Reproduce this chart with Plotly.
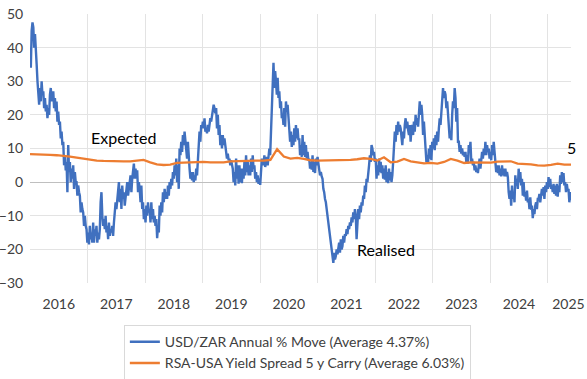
import numpy as np
import plotly.graph_objects as go

# USD/ZAR annual % move (forward one-year realised) in four chunks
usdzar_move_a = [40, 34, 45, 47.5, 46, 40, 44, 37, 35, 30, 27, 23, 28, 24, 30, 26,
    27, 22, 25, 21, 23, 19, 22, 20, 26, 28, 24, 26, 27, 22, 25, 21,
    24, 18, 21, 17, 18, 13, 15, 11, 12, 5, 8, 3.5, 6, -3, 11, 3,
    6, 0, 4, 1, 5, -2, 3, 0, 0, -4, -1, -3, -4, -9, -6, -8,
    -9, -13, -10, -13, -14, -18, -15, -18.5, -13, -17, -15, -18, -12, -18, -14, -16,
    -13, -18, -15, -17, -14, -6, -3, -10, -13, -11, -14, -10, -15, -13, -17, -12,
    -16, -14, -15, -13, -16, -12, -9, -6, -8, -5, -3, 0, -6, -2, -8, -1,
    -5, -3, -7, -4, -2, 0, -4, -1, 0, 2, -3, 1, 3, 5.5, 1, 4,
    1, 3.5, -3, 0, -2, -6, -1, -8, -6, -11, -8, -12, -7, -10, -6, -9,
    -8, -12, -6, -11, -8, -12, -10, -13, -11, -16.7, -13, -15, -7, -10, -6, -9,
    -3, -6, -2, -5]
usdzar_move_b = [-3, -5, -1, -4, 0, -2, 1, -1, 3, 1, 5, 2, 7, 0, 5, -2,
    10, 8, 12, 9, 14, 11, 15, 12, 10, 7, 12, 6, 4, 1, 3, 0.5,
    3, 0, 2, 0.5, 4, 2, 8, 13, 15, 12, 17, 16, 18, 16, 19, 15,
    16, 14.5, 17, 15, 17, 19, 18, 20, 21, 23, 22, 20.5, 22, 16, 20, 14,
    17, 11, 14, 10, 14, 11, 13, 10.5, 8, 7, 8.5, 6.5, 7, 5, 6.5, 4.5,
    4, 0, 3, -1, 7, 1, 5, -0.5, 5, 0, 4, -0.3, 4, 1, 6, 2,
    8, 3, 6, 2, 5, 2, 7, 3, 8, 4, 5, 1, 3, 0, 2, -0.5,
    1, -0.8, 4, 7, 6, 5, 8, 4.5, 6, 7.5, 5, 9, 10, 8, 15, 20,
    25, 35.5, 28, 33, 30, 26, 31, 25, 27, 22, 24, 19, 20, 17, 22, 16.5,
    24, 21, 23, 19, 18, 12, 15, 10.5, 14, 11, 16, 12, 17, 13, 16, 12.5,
    13, 8, 11, 7.5]
usdzar_move_c = [14, 8, 12, 7.5, 11, 7, 9, 6.5, 7, 4, 6, 3.7, 8, 3, 6, 2.7,
    7, 5, 7.5, 4.7, 3.7, 2, 3, 1.7, 1, -2, -3, -5, -6, -8, -10, -13,
    -14, -17, -19, -21, -22, -24, -21, -23, -22, -20, -21.5, -19.5, -18, -21, -17, -20,
    -19, -16, -18, -15.5, -16, -14, -15.5, -13, -14, -12, -13, -10.5, -12, -9, -11, -8,
    -10, -17, -12, -8, -11, -7, -9, -6, -7, -4, -5, -1, -3, 1, 0, 4,
    5, 8, 6, 11, 10, 8, 9, 6, 7, 1, 5, 2, 7, 3, 6, 2.7,
    5, 1, 4, 0.7, 5, 0, 3, -0.3, 4, 0.5, 3, 0, 2, 6, 10, 15,
    12, 17, 14, 18, 15, 17, 16, 13, 11, 15, 13, 17, 19, 16, 18, 15.5,
    14, 17, 12, 16, 17, 14, 18, 15, 20, 17, 19, 16.5, 22, 24, 20, 23,
    20, 14, 18, 13, 9, 6, 8, 5.5, 10, 7, 11, 6.5, 12, 10, 13, 9.5,
    14, 11, 15, 12]
usdzar_move_d = [16, 19, 17, 20, 23, 28, 25, 27, 26, 22, 24, 19, 17, 13, 15, 12.5,
    20, 24, 22, 28, 25, 18, 22, 12, 12, 9, 11, 8.5, 10, 8, 9, 7.5,
    9, 6, 8, 5.5, 11, 9, 12, 6, 7, 5, 6, 3.5, 5, 3, 4, 2.7,
    5, 7, 4, 8, 9, 7, 10, 8, 12, 8, 11, 9, 10, 7, 9, 6.5,
    11, 8, 12, 9, 6, 3, 5, 2.7, 5, 2, 4, 1.7, 5, 2, 4, 1.7,
    4, 1.7, 3, 1.5, -3, -5, -2.5, -7, -1, -5, -3, -6, 2, -1, 1, -2,
    4, 0, 3, -1, 1, -4, 0, -4.3, -3, -5.5, -2.5, -6, -5, -8, -4.5, -8.2,
    -7, -10.7, -8, -9.5, -7, -6, -8, -5, -5, -3.5, -6, -3, -2, -4, -1.5, -5,
    -1, -3, 0, -2, 1.5, -1.5, 1, -2, -1, -3, -0.5, -3.5, -1, -4, -0.5, -4.3,
    -1, -3, 2, -0.5, 3, 0, 2.7, -1, 0, -3, -0.5, -2.5, -2, -6, -3, -5.5]

# RSA-USA yield spread (5y carry)
spread_carry = [8.3, 8.3, 8.2, 8.1, 8.0, 7.9, 7.6, 7.3, 7.0, 6.6, 6.4, 6.3, 6.2, 6.2, 6.2, 6.2,
    6.3, 6.6, 5.9, 5.3, 5.1, 5.2,
    5.7, 5.8, 5.8, 5.8, 6.0, 5.9, 5.9, 5.9, 6.2, 6.3, 6.4, 6.4, 6.4, 6.4, 6.6, 9.8,
    7.6, 7.0, 7.2, 6.9,
    6.5, 6.4, 6.4, 6.5, 6.5, 6.6, 6.6, 6.8, 7.1, 6.9, 6.4, 7.4, 5.9, 6.1, 6.9, 6.2,
    5.9, 5.6, 5.7, 5.5,
    6.0, 6.9, 6.4, 5.7, 5.9, 5.9, 5.8, 5.8, 6.1, 6.1, 6.2, 5.5, 5.5, 5.3, 5.0, 4.9,
    5.1, 5.5, 5.2, 5.2]

year_labels = ["2016", "2017", "2018", "2019", "2020", "2021", "2022", "2023", "2024", "2025"]

series_start, series_end = 2015.0, 2024.405

usdzar_move = usdzar_move_a + usdzar_move_b + usdzar_move_c + usdzar_move_d
x_move = np.linspace(series_start, series_end, len(usdzar_move))
x_spread = np.linspace(series_start, series_end, len(spread_carry))

BLUE = "#4070BF"
ORANGE = "#ED7D31"
FONT = "Lato"
CLEAR = "rgba(0,0,0,0)"

fig = go.Figure()
fig.add_trace(go.Scatter(x=x_move, y=usdzar_move, mode="lines",
                         line=dict(color=BLUE, width=2.4),
                         name="USD/ZAR Annual % Move (Average 4.37%)"))
fig.add_trace(go.Scatter(x=x_spread, y=spread_carry, mode="lines",
                         line=dict(color=ORANGE, width=2.3),
                         name="RSA-USA Yield Spread 5 y Carry (Average 6.03%)"))

label_pos = [2015.5 + i for i in range(9)] + [2024.36]
fig.update_xaxes(range=[series_start, series_end], tickmode="array",
                 tickvals=label_pos, ticktext=year_labels, showgrid=False,
                 zeroline=False, showline=False, ticks="outside", ticklen=8,
                 tickcolor=CLEAR, automargin=False,
                 tickfont=dict(family=FONT, size=14, color="#404040"),
                 minor=dict(tickmode="array", tickvals=list(range(2016, 2025)),
                            showgrid=True, gridcolor="#e3e3e3", gridwidth=1, ticks=""))
fig.update_yaxes(range=[-30, 50], tickmode="array", tickvals=list(range(-30, 51, 10)),
                 showgrid=False, zeroline=True, zerolinecolor="#bfbfbf", zerolinewidth=1,
                 showline=False, ticks="outside", ticklen=3, tickcolor=CLEAR,
                 automargin=False,
                 tickfont=dict(family=FONT, size=14, color="#404040"),
                 minor=dict(tickmode="array", tickvals=[-20, -10, 10, 20, 30, 40],
                            showgrid=True, gridcolor="#e3e3e3", gridwidth=1, ticks=""))

fig.add_annotation(x=2016.63, y=13.2, text="Expected", showarrow=False,
                   font=dict(family=FONT, size=16, color="#000000"))
fig.add_annotation(x=2021.19, y=-20.0, text="Realised", showarrow=False,
                   font=dict(family=FONT, size=16, color="#000000"))
fig.add_annotation(x=x_spread[-1], y=spread_carry[-1], text=f"{round(spread_carry[-1])}",
                   showarrow=False, yanchor="bottom", yshift=6, xanchor="center",
                   font=dict(family=FONT, size=16, color="#000000"))

fig.update_layout(
    width=587, height=379,
    margin=dict(l=30, r=16, t=14, b=96, autoexpand=False),
    paper_bgcolor="white", plot_bgcolor="white",
    showlegend=True,
    legend=dict(x=0.211, y=0.142, xref="container", yref="container",
                xanchor="left", yanchor="top",
                bordercolor="#d9d9d9", borderwidth=1,
                font=dict(family=FONT, size=14, color="#404040"),
                tracegroupgap=0),
)

fig.write_html("out.html", config={"displayModeBar": False},
               post_script="document.body.style.margin='0';document.body.style.overflow='hidden';")
